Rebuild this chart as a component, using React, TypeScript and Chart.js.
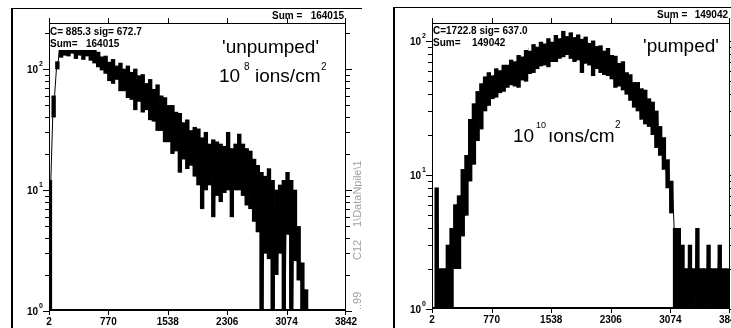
import React, { useEffect, useRef } from "react";
import { Chart, registerables } from "chart.js";

Chart.register(...registerables);

// ---- data -------------------------------------------------------------
// channel grid (every 24th channel of the 2..3842 spectrum)
const CHANNELS: number[] = Array.from({ length: 161 }, (_, i) => 2 + 24 * i);

const X_TICKS = [2, 770, 1538, 2306, 3074, 3842];
const X_TICK_LABELS = ["2", "770", "1538", "2306", "3074", "3842"];
const Y_DECADES = [1, 10, 100];
const Y_EXPONENTS = ["0", "1", "2"];

// counts (alternating upper / lower noise envelope)
const UNPUMPED: number[] = [
  0, 12, 40, 60, 100, 115, 175, 125, 190, 130,
  185, 128, 195, 135, 180, 122, 190, 130, 175, 120,
  185, 128, 170, 118, 160, 112, 138, 104, 126, 98,
  128, 92, 114, 80, 120, 76, 106, 82, 112, 66,
  100, 66, 106, 58, 94, 56, 100, 46, 88, 54,
  90, 44, 76, 46, 82, 38, 68, 37, 74, 31,
  60, 31, 58, 25, 50, 25, 50, 20, 44, 21,
  43, 14, 36, 18, 38, 15, 31, 16, 33, 13,
  32, 11, 27, 7, 30, 10, 24, 11, 26, 6,
  25, 9, 24, 8, 23, 9.5, 30, 10, 22, 6,
  24, 10, 29, 10, 24, 9, 22, 7.5, 21, 7,
  18, 5.5, 16, 4.5, 14, 0, 13, 3, 15, 2.7,
  12, 0, 10, 2, 11, 3, 12, 0, 14, 4.3,
  12, 0, 10, 2.6, 5, 1.8, 2.5, 0, 1.5, 0,
  0, 0, 0, 0, 0, 0, 0, 0, 0, 0,
  0, 0, 0, 0, 0, 0, 0, 0, 0, 0, 0,
];

// counts
const PUMPED: number[] = [
  0, 1, 0, 8, 0, 2, 1, 2, 0, 3,
  1, 4, 2, 6, 2, 7, 3.5, 11, 5, 14,
  9, 26, 12, 34, 18, 42, 22, 48, 30, 54,
  33, 58, 37, 55, 38, 62, 41, 60, 42, 66,
  45, 66, 47, 72, 46, 70, 45, 78, 51, 76,
  50, 88, 57, 84, 58, 94, 62, 90, 65, 98,
  66, 95, 64, 104, 70, 98, 70, 110, 74, 104,
  76, 118, 79, 108, 74, 115, 70, 106, 72, 111,
  58, 103, 68, 107, 66, 96, 55, 100, 62, 91,
  58, 92, 56, 84, 55, 88, 52, 78, 45, 77,
  46, 68, 43, 70, 40, 58, 36, 56, 32, 49,
  30, 49, 26, 44, 24, 43, 23, 37, 20, 35,
  16, 30, 14, 23, 11, 19, 8, 13, 5.2, 9,
  4, 0, 4, 1, 3, 0, 2, 1, 3, 0,
  2, 1, 4, 0, 2, 1, 2, 0, 3, 1,
  2, 0, 2, 1, 3, 0, 2, 1, 2, 0, 2,
];

// zero counts sit below the log axis floor (drawn down to the axis, clipped)
const LOG_FLOOR = 0.5;

// ---- styling ------------------------------------------------------------
const SMALL = "bold 10px 'Liberation Sans', Arial, sans-serif";
const BIG = "19px 'Liberation Sans', Arial, sans-serif";
const SUP = "10px 'Liberation Sans', Arial, sans-serif";

type Panel = {
  values: number[];
  yMax: number;
  pad: { left: number; right: number; top: number; bottom: number };
  frameX: number;
  frameY: number;
  boxW: number;
  stat: string;
  sum: string;
  sumNumX: number;
  topSumX: number;
  topSumRight: number;
  topSumY: number;
  statY: number;
  sumY: number;
  title: string;
  titleX: number;
  titleY: number;
  doseX: number;
  doseY: number;
  doseExp: string;
  doseExpX: number;
  doseExpFont: string;
  unitText: string;
  unitX: number;
  unit2X: number;
  supDy: number;
  side: boolean;
};

const LEFT: Panel = {
  values: UNPUMPED,
  yMax: 240,
  pad: { left: 49, right: 16, top: 23, bottom: 17 },
  frameX: 11,
  frameY: 8,
  boxW: 70,
  stat: "C= 885.3 sig= 672.7",
  sum: "164015",
  sumNumX: 86,
  topSumX: 272,
  topSumRight: 344,
  topSumY: 19,
  statY: 35,
  sumY: 47,
  title: "'unpumped'",
  titleX: 222,
  titleY: 53,
  doseX: 219,
  doseY: 82,
  doseExp: "8",
  doseExpX: 244,
  doseExpFont: SUP,
  unitText: "ions/cm",
  unitX: 255,
  unit2X: 321,
  supDy: 12,
  side: true,
};

const RIGHT: Panel = {
  values: PUMPED,
  yMax: 136,
  pad: { left: 70, right: 1, top: 23, bottom: 19 },
  frameX: 31,
  frameY: 7,
  boxW: 95,
  stat: "C=1722.8 sig= 637.0",
  sum: "149042",
  sumNumX: 110,
  topSumX: 295,
  topSumRight: 366,
  topSumY: 18,
  statY: 34,
  sumY: 46,
  title: "'pumped'",
  titleX: 281,
  titleY: 52,
  doseX: 151,
  doseY: 142,
  doseExp: "10",
  doseExpX: 174,
  doseExpFont: "9px 'Liberation Sans', Arial, sans-serif",
  unitText: "\u0131ons/cm",
  unitX: 186,
  unit2X: 253,
  supDy: 14,
  side: false,
};

function decorPlugin(p: Panel) {
  return {
    id: "panelDecor",
    beforeDraw(chart: any) {
      const ctx: CanvasRenderingContext2D = chart.ctx;
      ctx.save();
      ctx.fillStyle = "#fff";
      ctx.fillRect(0, 0, chart.width, chart.height);
      ctx.fillStyle = "#000";
      ctx.fillRect(p.frameX, p.frameY, chart.width - p.frameX, 1);
      ctx.fillRect(p.frameX, p.frameY, 2, chart.height - p.frameY);
      ctx.restore();
    },
    afterDatasetsDraw(chart: any) {
      const ctx: CanvasRenderingContext2D = chart.ctx;
      const a = chart.chartArea;
      const xs = chart.scales.x;
      const ys = chart.scales.y;
      ctx.save();
      // statistics box (opaque)
      ctx.fillStyle = "#fff";
      ctx.fillRect(a.left + 1, a.top + 1, p.boxW, 26);

      ctx.fillStyle = "#000";
      // plot frame
      ctx.fillRect(a.left, a.top, a.right - a.left, 1);
      ctx.fillRect(a.left, a.top, 1, a.bottom - a.top);
      ctx.fillRect(a.right - 1, a.top, 1, a.bottom - a.top);
      ctx.fillRect(a.left, a.bottom - 2, a.right - a.left, 2);

      // x ticks (top and bottom) and labels
      ctx.font = SMALL;
      ctx.textAlign = "center";
      ctx.textBaseline = "alphabetic";
      X_TICKS.forEach((t, i) => {
        const px = Math.min(Math.round(xs.getPixelForValue(t)), a.right - 1);
        ctx.fillRect(px, a.top - 5, 1, 5);
        ctx.fillRect(px, a.bottom, 1, 4);
        ctx.fillText(X_TICK_LABELS[i], xs.getPixelForValue(t), a.bottom + 14);
      });

      // y ticks on both sides
      for (let d = 1; d <= p.yMax; d *= 10) {
        for (let m = 1; m <= 9; m++) {
          const v = d * m;
          if (v > p.yMax) break;
          const py = Math.round(ys.getPixelForValue(v));
          const len = m === 1 ? 6 : 4;
          ctx.fillRect(a.left - len, py, len, 1);
          ctx.fillRect(a.right, py, len, 1);
        }
      }
      // decade labels 10^n
      Y_DECADES.forEach((v, i) => {
        const py = ys.getPixelForValue(v);
        ctx.textAlign = "right";
        ctx.textBaseline = "middle";
        ctx.font = "bold 7px 'Liberation Sans', Arial, sans-serif";
        ctx.fillText(Y_EXPONENTS[i], a.left - 6, py - 5);
        ctx.font = SMALL;
        ctx.fillText("10", a.left - 11, py + 1);
      });

      // statistics text
      ctx.textAlign = "left";
      ctx.textBaseline = "alphabetic";
      ctx.font = SMALL;
      ctx.fillText(p.stat, a.left + 1, p.statY);
      ctx.fillText("Sum=", a.left + 1, p.sumY);
      ctx.fillText(p.sum, p.sumNumX, p.sumY);
      ctx.fillText("Sum =", p.topSumX, p.topSumY);
      ctx.textAlign = "right";
      ctx.fillText(p.sum, p.topSumRight, p.topSumY);

      // annotations
      ctx.textAlign = "left";
      ctx.font = BIG;
      ctx.fillText(p.title, p.titleX, p.titleY);
      ctx.fillText("10", p.doseX, p.doseY);
      ctx.font = p.doseExpFont;
      ctx.fillText(p.doseExp, p.doseExpX, p.doseY - p.supDy);
      ctx.font = BIG;
      ctx.fillText(p.unitText, p.unitX, p.doseY);
      ctx.font = SUP;
      ctx.fillText("2", p.unit2X, p.doseY - p.supDy);

      // rotated file-path note
      if (p.side) {
        ctx.save();
        ctx.fillStyle = "#a0a0a0";
        ctx.font = "11px 'Liberation Sans', Arial, sans-serif";
        ctx.translate(358, 0);
        ctx.rotate(-Math.PI / 2);
        ctx.textBaseline = "middle";
        ctx.textAlign = "left";
        ctx.fillText("..99", -310, 0);
        ctx.fillText("C12", -260, 0);
        ctx.fillText("1\\DataNpile\\1", -227, 0);
        ctx.restore();
      }
      ctx.restore();
    },
  };
}

function makeChart(canvas: HTMLCanvasElement, p: Panel) {
  const pts = CHANNELS.map((x, i) => ({ x, y: Math.max(p.values[i], LOG_FLOOR) }));
  // noise band: one floating bar per (even, odd) sample pair
  const band: { x: number; y: [number, number] }[] = [];
  for (let k = 0; 2 * k + 1 < pts.length; k++) {
    const a = pts[2 * k];
    const b = pts[2 * k + 1];
    band.push({ x: (a.x + b.x) / 2, y: [Math.min(a.y, b.y), Math.max(a.y, b.y)] });
  }
  return new Chart(canvas, {
    type: "bar",
    data: {
      datasets: [
        {
          type: "bar",
          data: band,
          backgroundColor: "#000",
          borderWidth: 0,
          barPercentage: 1,
          categoryPercentage: 1,
          grouped: false,
        },
        { type: "line", data: pts, borderColor: "#000", borderWidth: 1, pointRadius: 0, tension: 0, fill: false },
      ],
    },
    options: {
      responsive: false,
      maintainAspectRatio: false,
      devicePixelRatio: 1,
      animation: false,
      events: [],
      layout: { padding: p.pad },
      plugins: { legend: { display: false }, tooltip: { enabled: false } },
      scales: {
        x: { type: "linear", min: 2, max: 3842, offset: false, display: false },
        y: { type: "logarithmic", min: 1, max: p.yMax, display: false },
      },
    },
    plugins: [decorPlugin(p)],
  } as any);
}

export default function App() {
  const leftRef = useRef<HTMLCanvasElement>(null);
  const rightRef = useRef<HTMLCanvasElement>(null);
  useEffect(() => {
    const charts = [makeChart(leftRef.current!, LEFT), makeChart(rightRef.current!, RIGHT)];
    return () => charts.forEach((c) => c.destroy());
  }, []);
  return (
    <div style={{ position: "absolute", left: 0, top: 0, width: 731, height: 328, background: "#fff", overflow: "hidden" }}>
      <canvas ref={leftRef} width={362} height={328} style={{ position: "absolute", left: 0, top: 0, width: 362, height: 328 }} />
      <canvas ref={rightRef} width={369} height={328} style={{ position: "absolute", left: 362, top: 0, width: 369, height: 328 }} />
    </div>
  );
}
